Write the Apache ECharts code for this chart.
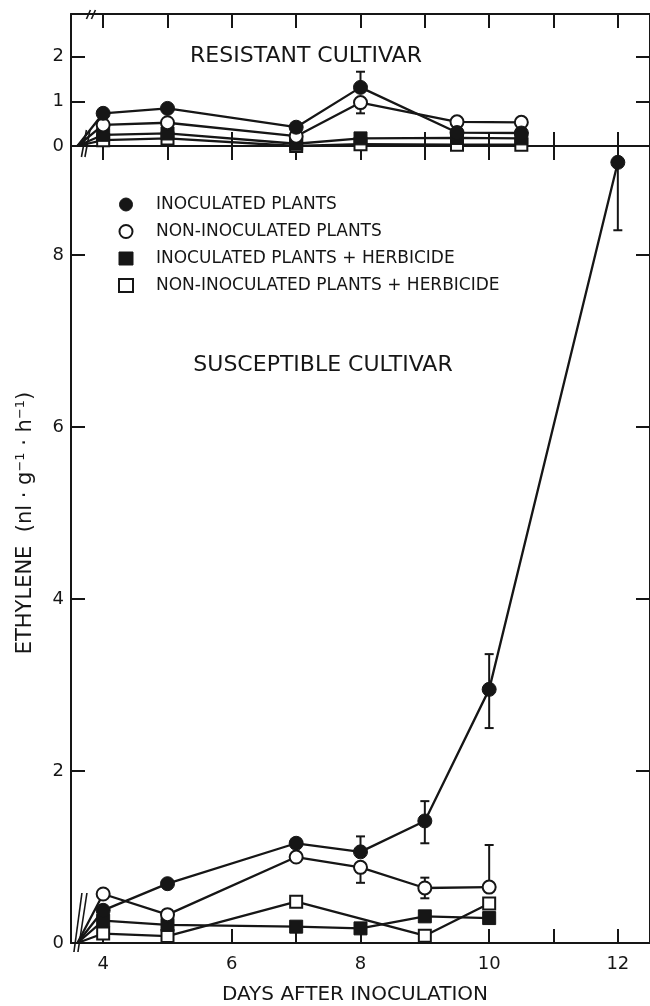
<!DOCTYPE html>
<html>
<head>
<meta charset="utf-8">
<script src="https://cdn.jsdelivr.net/npm/echarts@6/dist/echarts.min.js"></script>
<style>
  html, body { margin: 0; padding: 0; background: #fff; }
  #chart { width: 650px; height: 1006px; }
</style>
</head>
<body>
<div id="chart"></div>
<script>
// ---------- data ----------
const ORIGIN_DAY = 3.6;          // day 0, drawn just behind the axis break
const X_TICKS = [4, 5, 6, 7, 8, 9, 10, 11, 12];
const X_LABELS = [4, 6, 8, 10, 12];
const RES_Y_TICKS = [0, 1, 2];
const SUS_Y_TICKS = [0, 2, 4, 6, 8];

const SERIES_NAMES = [
  'INOCULATED PLANTS',
  'NON-INOCULATED PLANTS',
  'INOCULATED PLANTS + HERBICIDE',
  'NON-INOCULATED PLANTS + HERBICIDE'
];

// Resistant cultivar (top panel)
const RES_DAYS = [4, 5, 7, 8, 9.5, 10.5];
const RES_INOC = [0.73, 0.84, 0.42, 1.31, 0.30, 0.29];
const RES_INOC_LOW = [null, null, null, null, null, null];
const RES_INOC_HIGH = [null, null, null, 1.66, null, null];
const RES_NONINOC = [0.47, 0.52, 0.22, 0.97, 0.54, 0.53];
const RES_NONINOC_LOW = [null, null, null, 0.73, null, null];
const RES_NONINOC_HIGH = [null, null, null, null, null, null];
const RES_INOC_HERB = [0.25, 0.28, 0.05, 0.17, 0.18, 0.17];
const RES_NONINOC_HERB = [0.13, 0.17, 0.0, 0.04, 0.03, 0.03];

// Susceptible cultivar (bottom panel)
const SUS_INOC_DAYS = [4, 5, 7, 8, 9, 10, 12];
const SUS_INOC = [0.38, 0.69, 1.16, 1.06, 1.42, 2.95, 9.08];
const SUS_INOC_LOW = [null, null, null, null, 1.16, 2.50, 8.29];
const SUS_INOC_HIGH = [null, null, null, 1.24, 1.65, 3.36, null];
const SUS_DAYS = [4, 5, 7, 8, 9, 10];
const SUS_NONINOC = [0.57, 0.33, 1.00, 0.88, 0.64, 0.65];
const SUS_NONINOC_LOW = [null, null, null, 0.70, 0.52, null];
const SUS_NONINOC_HIGH = [null, null, null, null, 0.76, 1.14];
const SUS_INOC_HERB = [0.26, 0.21, 0.19, 0.17, 0.31, 0.29];
const SUS_NONINOC_HERB_DAYS = [4, 5, 7, 9, 10];
const SUS_NONINOC_HERB = [0.11, 0.08, 0.48, 0.085, 0.46];

// ---------- styling ----------
const INK = '#161616';
const FONT = '"DejaVu Sans", "Liberation Sans", sans-serif';
const STYLES = [
  { symbol: 'circle', size: 14, itemStyle: { color: INK, borderColor: INK, borderWidth: 1 } },
  { symbol: 'circle', size: 13, itemStyle: { color: '#fff', borderColor: INK, borderWidth: 2 } },
  { symbol: 'rect', size: 13, itemStyle: { color: INK, borderColor: INK, borderWidth: 1 } },
  { symbol: 'rect', size: 12, itemStyle: { color: '#fff', borderColor: INK, borderWidth: 2 } }
];

function lineSeries(idx, days, vals, xi, yi) {
  const st = STYLES[idx];
  const data = [{ value: [ORIGIN_DAY, 0], symbol: 'none' }]
    .concat(days.map((d, i) => [d, vals[i]]));
  return {
    type: 'line', name: SERIES_NAMES[idx], xAxisIndex: xi, yAxisIndex: yi,
    data: data, symbol: st.symbol, symbolSize: st.size, showSymbol: true,
    itemStyle: st.itemStyle, lineStyle: { color: INK, width: 2.3 },
    z: 3, animation: false, silent: true
  };
}

function errSeries(days, vals, lows, highs, xi, yi) {
  const data = [];
  days.forEach((d, i) => {
    if (lows[i] == null && highs[i] == null) return;
    data.push([d, lows[i] == null ? vals[i] : lows[i], highs[i] == null ? vals[i] : highs[i],
               lows[i] == null ? 0 : 1, highs[i] == null ? 0 : 1]);
  });
  return {
    type: 'custom', xAxisIndex: xi, yAxisIndex: yi, z: 2, animation: false, silent: true,
    data: data,
    renderItem: function (params, api) {
      const x = api.value(0);
      const pLo = api.coord([x, api.value(1)]);
      const pHi = api.coord([x, api.value(2)]);
      const cap = 4.5;
      const style = { stroke: INK, lineWidth: 2 };
      const children = [{ type: 'line', shape: { x1: pLo[0], y1: pLo[1], x2: pHi[0], y2: pHi[1] }, style: style }];
      if (api.value(3)) children.push({ type: 'line', shape: { x1: pLo[0] - cap, y1: pLo[1], x2: pLo[0] + cap, y2: pLo[1] }, style: style });
      if (api.value(4)) children.push({ type: 'line', shape: { x1: pHi[0] - cap, y1: pHi[1], x2: pHi[0] + cap, y2: pHi[1] }, style: style });
      return { type: 'group', children: children };
    }
  };
}

const axisLine = { show: true, onZero: false, lineStyle: { color: INK, width: 2 } };
const tickIn = (vals) => ({ show: true, inside: true, length: 14, customValues: vals, lineStyle: { color: INK, width: 2 } });

function xAxis(grid, pos, labels) {
  return {
    type: 'value', gridIndex: grid, position: pos, min: 3.5, max: 12.5,
    axisLine: axisLine, axisTick: tickIn(X_TICKS), splitLine: { show: false },
    axisLabel: labels
      ? { show: true, customValues: labels, margin: 12, color: INK, fontSize: 18, fontFamily: FONT }
      : { show: false }
  };
}
function yAxis(grid, pos, max, ticks, labels) {
  return {
    type: 'value', gridIndex: grid, position: pos, min: 0, max: max,
    axisLine: axisLine, axisTick: tickIn(ticks), splitLine: { show: false },
    axisLabel: labels
      ? { show: true, customValues: labels, margin: 7, color: INK, fontSize: 18, fontFamily: FONT }
      : { show: false }
  };
}

const chart = echarts.init(document.getElementById('chart'), null, { renderer: 'canvas' });

const texts = [
  { type: 'text', x: 306, y: 56, style: { text: 'RESISTANT CULTIVAR', fill: INK, font: '22px ' + FONT, textAlign: 'center', textVerticalAlign: 'middle' } },
  { type: 'text', x: 323, y: 365, style: { text: 'SUSCEPTIBLE CULTIVAR', fill: INK, font: '22px ' + FONT, textAlign: 'center', textVerticalAlign: 'middle' } },
  { type: 'text', x: 355, y: 995, style: { text: 'DAYS AFTER INOCULATION', fill: INK, font: '20px ' + FONT, textAlign: 'center', textVerticalAlign: 'middle' } },
  { type: 'text', x: 26, y: 523, rotation: Math.PI / 2,
    style: {
      text: 'ETHYLENE  (nl · g{sup|−1} · h{sup|−1})',
      fill: INK, font: '21px ' + FONT, textAlign: 'center', textVerticalAlign: 'middle',
      rich: { sup: { fontSize: 13, fontFamily: FONT, fill: INK, verticalAlign: 'top', padding: [0, 0, 10, 0] } }
    }
  }
];

const option = {
  backgroundColor: '#ffffff',
  animation: false,
  grid: [
    { left: 71, top: 14, width: 581, height: 132 },
    { left: 71, top: 146, width: 581, height: 797 }
  ],
  xAxis: [
    xAxis(0, 'bottom', null),
    xAxis(0, 'top', null),
    xAxis(1, 'bottom', X_LABELS),
    xAxis(1, 'top', null)
  ],
  yAxis: [
    yAxis(0, 'left', 2.95, RES_Y_TICKS, RES_Y_TICKS),
    yAxis(0, 'right', 2.95, RES_Y_TICKS, null),
    yAxis(1, 'left', 9.27, SUS_Y_TICKS, SUS_Y_TICKS),
    yAxis(1, 'right', 9.27, SUS_Y_TICKS, null)
  ],
  legend: {
    orient: 'vertical', left: 118, top: 196, padding: 0,
    itemWidth: 14, itemHeight: 13, itemGap: 10,
    selectedMode: false,
    textStyle: { color: INK, fontSize: 17, fontFamily: FONT, lineHeight: 17, padding: [0, 0, 0, 18] },
    data: SERIES_NAMES.map((n, i) => ({
      name: n, icon: STYLES[i].symbol, itemStyle: STYLES[i].itemStyle
    }))
  },
  graphic: texts,
  series: [
    errSeries(RES_DAYS, RES_INOC, RES_INOC_LOW, RES_INOC_HIGH, 0, 0),
    errSeries(RES_DAYS, RES_NONINOC, RES_NONINOC_LOW, RES_NONINOC_HIGH, 0, 0),
    errSeries(SUS_INOC_DAYS, SUS_INOC, SUS_INOC_LOW, SUS_INOC_HIGH, 2, 2),
    errSeries(SUS_DAYS, SUS_NONINOC, SUS_NONINOC_LOW, SUS_NONINOC_HIGH, 2, 2),
    lineSeries(3, RES_DAYS, RES_NONINOC_HERB, 0, 0),
    lineSeries(2, RES_DAYS, RES_INOC_HERB, 0, 0),
    lineSeries(1, RES_DAYS, RES_NONINOC, 0, 0),
    lineSeries(0, RES_DAYS, RES_INOC, 0, 0),
    lineSeries(3, SUS_NONINOC_HERB_DAYS, SUS_NONINOC_HERB, 2, 2),
    lineSeries(2, SUS_DAYS, SUS_INOC_HERB, 2, 2),
    lineSeries(1, SUS_DAYS, SUS_NONINOC, 2, 2),
    lineSeries(0, SUS_INOC_DAYS, SUS_INOC, 2, 2)
  ]
};
chart.setOption(option);

// axis-break marks, placed relative to the axes
const pBot = chart.convertToPixel({ xAxisIndex: 2, yAxisIndex: 2 }, [ORIGIN_DAY, 0]);
const pMid = chart.convertToPixel({ xAxisIndex: 0, yAxisIndex: 0 }, [ORIGIN_DAY, 0]);
const pTop = chart.convertToPixel({ xAxisIndex: 1, yAxisIndex: 0 }, [ORIGIN_DAY, 2.95]);
const br = (p, a, b, c, d) => ({ type: 'line', z: 10, shape: { x1: p[0] + a, y1: p[1] + b, x2: p[0] + c, y2: p[1] + d }, style: { stroke: INK, lineWidth: 1.6 } });
const breaks = [
  br(pBot, -3.5, 9, 4.5, -50), br(pBot, 0.5, 9, 9.5, -50),
  br(pMid, 4, 11, 9, -16), br(pMid, 7.5, 11, 12.5, -16),
  br(pTop, 9, 5, 13, -4), br(pTop, 14, 5, 18, -4)
];
chart.setOption({ graphic: texts.concat(breaks) });
</script>
</body>
</html>
